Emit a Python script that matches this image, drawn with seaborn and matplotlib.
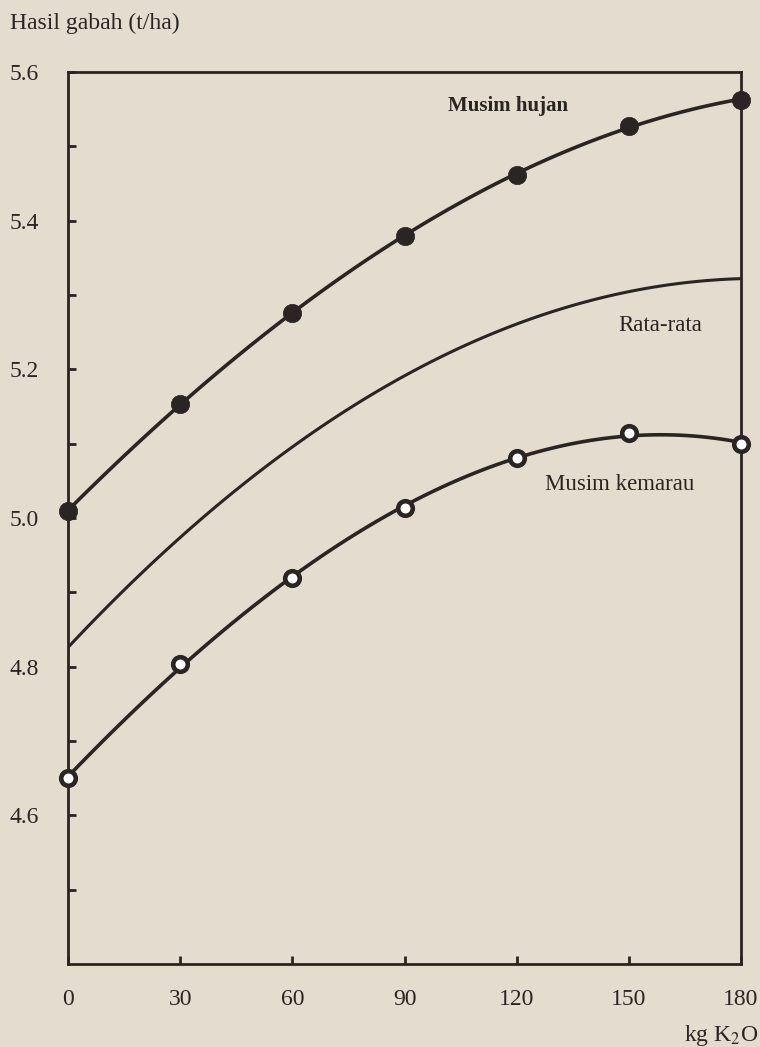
import numpy as np
import pandas as pd
import matplotlib
matplotlib.use("Agg")
import matplotlib.pyplot as plt
import seaborn as sns

# Data
kg_k2o = [0, 30, 60, 90, 120, 150, 180]
musim_hujan = [5.01, 5.153, 5.276, 5.38, 5.462, 5.527, 5.563]
musim_kemarau = [4.65, 4.804, 4.919, 5.013, 5.081, 5.114, 5.10]
rata_rata = [4.827, 4.97, 5.10, 5.19, 5.26, 5.305, 5.322]
y_major = [4.6, 4.8, 5.0, 5.2, 5.4, 5.6]
y_minor = [4.5, 4.7, 4.9, 5.1, 5.3, 5.5]
x_ticks = [0, 30, 60, 90, 120, 150, 180]

df = pd.DataFrame({"x": kg_k2o, "hujan": musim_hujan,
                   "kemarau": musim_kemarau, "rata": rata_rata})

sns.set_theme(style="white")
bg = "#e5dcd0"
ink = "#2a2522"
plt.rcParams["font.family"] = ["Liberation Serif", "DejaVu Serif"]
plt.rcParams["mathtext.fontset"] = "stix"

fig = plt.figure(figsize=(7.6, 10.47), dpi=100, facecolor=bg)
ax = fig.add_axes([68/760, 1-964/1047, (741-68)/760, (964-72)/1047])
ax.set_facecolor(bg)

lw = 2.6
sns.regplot(data=df, x="x", y="hujan", order=3, ci=None, scatter=False,
            truncate=True, color=ink, line_kws={"lw": lw}, ax=ax)
sns.regplot(data=df, x="x", y="kemarau", order=3, ci=None, scatter=False,
            truncate=True, color=ink, line_kws={"lw": lw}, ax=ax)
sns.regplot(data=df, x="x", y="rata", order=3, ci=None, scatter=False,
            truncate=True, color=ink, line_kws={"lw": 2.2}, ax=ax)

sns.scatterplot(data=df, x="x", y="hujan", s=175, color=ink, edgecolor=ink,
                linewidth=0.5, ax=ax, clip_on=False, zorder=5)
sns.scatterplot(data=df, x="x", y="kemarau", s=110, facecolor="white",
                edgecolor=ink, linewidth=3.3, ax=ax, clip_on=False, zorder=5)

ax.set_xlim(0, 180)
ax.set_ylim(4.4, 5.6)
ax.set_xlabel("")
ax.set_ylabel("")
ax.set_xticks(x_ticks)
ax.set_xticklabels([str(v) for v in x_ticks])
ax.set_yticks(y_major)
ax.set_yticklabels([f"{v:.1f}" for v in y_major])
ax.set_yticks(y_minor, minor=True)

for s in ax.spines.values():
    s.set_visible(True)
    s.set_color(ink)
    s.set_linewidth(2.0)

ax.tick_params(axis="both", which="both", direction="in", length=6,
               width=2, color=ink, labelcolor=ink, labelsize=17,
               left=True, bottom=True, right=False, top=False)
ax.tick_params(axis="y", which="major", pad=21)
ax.tick_params(axis="x", which="major", pad=18)

fig.text(10/760, 1-23/1047, "Hasil gabah (t/ha)", fontsize=17, color=ink,
         ha="left", va="center")
fig.text(758/760, 1-1036/1047, "kg K$_2$O", fontsize=17, color=ink,
         ha="right", va="center")

ax.text(117.7, 5.554, "Musim hujan", fontsize=15, fontweight="bold",
        color=ink, ha="center", va="center")
ax.text(158.3, 5.259, "Rata-rata", fontsize=16.5, color=ink,
        ha="center", va="center")
ax.text(147.6, 5.045, "Musim kemarau", fontsize=16.5, color=ink,
        ha="center", va="center")

fig.savefig("out.png", dpi=100, facecolor=bg)
